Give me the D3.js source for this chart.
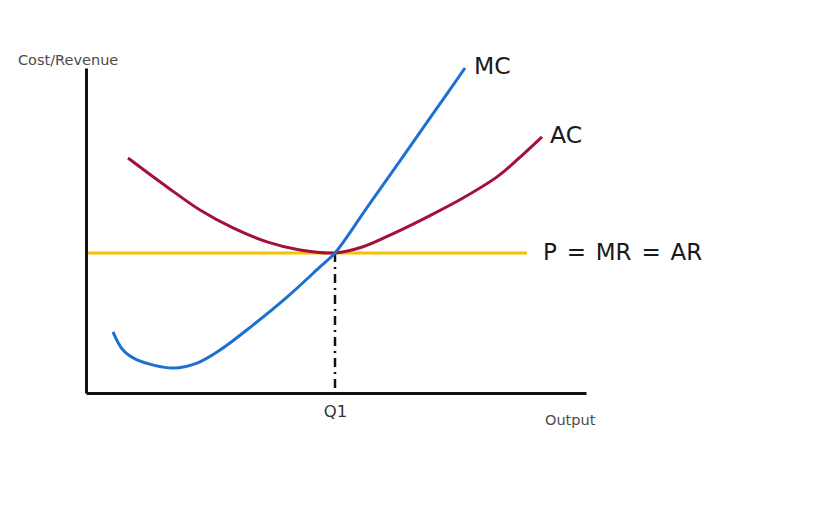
<!DOCTYPE html>
<html>
<head>
<meta charset="utf-8">
<script src="https://cdn.jsdelivr.net/npm/d3@7"></script>
<style>
  body { margin: 0; background: #fff; }
  svg text { font-family: "DejaVu Sans", Verdana, sans-serif; }
</style>
</head>
<body>
<script>
'use strict'

// output (0-100) vs cost (0-100)
const mcOutput = [5.4, 7.4, 10.2, 17.4, 22.2, 26.8, 33.4, 40.2, 46.8, 49.8, 56.3, 62.8, 69.3, 75.8]
const mcCost   = [18.8, 13.2, 10.2, 7.7, 9.2, 13.2, 20.9, 29.5, 38.8, 43.1, 57.3, 71.4, 85.7, 100]

const acOutput = [8.4, 16.2, 22.8, 29.4, 36.2, 42.8, 49.8, 55.4, 62.2, 68.8, 75.4, 82.2, 86.2, 91.2]
const acCost   = [72.3, 63.4, 56.3, 50.8, 46.5, 44.0, 43.1, 45.0, 49.6, 54.6, 60.0, 66.5, 71.7, 78.8]

const priceLevel = 43.1
const priceOutput = [0, 88.2]
const q1 = 49.8
const q1Label = 'Q1'

window.onload = function () {
  const width = 814, height = 508

  const x = d3.scaleLinear().domain([0, 100]).range([86, 586])
  const y = d3.scaleLinear().domain([0, 100]).range([393, 68])

  const svg = d3.select('body').append('svg')
    .attr('width', width)
    .attr('height', height)

  const line = d3.line()
    .x(d => x(d[0]))
    .y(d => y(d[1]))
    .curve(d3.curveCatmullRom.alpha(0.5))

  const mcData = mcOutput.map((v, i) => [v, mcCost[i]])
  const acData = acOutput.map((v, i) => [v, acCost[i]])

  // price line
  svg.append('line')
    .attr('x1', x(priceOutput[0])).attr('x2', x(priceOutput[1]))
    .attr('y1', y(priceLevel)).attr('y2', y(priceLevel))
    .attr('stroke', '#f6c200')
    .attr('stroke-width', 3)

  // dash-dot drop line at Q1
  svg.append('line')
    .attr('x1', x(q1)).attr('x2', x(q1))
    .attr('y1', y(priceLevel)).attr('y2', y(0))
    .attr('stroke', '#111')
    .attr('stroke-width', 2.5)
    .attr('stroke-dasharray', '9,5,2,5')

  svg.append('path')
    .datum(acData)
    .attr('d', line)
    .attr('fill', 'none')
    .attr('stroke', '#a3113a')
    .attr('stroke-width', 3)

  svg.append('path')
    .datum(mcData)
    .attr('d', line)
    .attr('fill', 'none')
    .attr('stroke', '#1f6fd2')
    .attr('stroke-width', 3)

  // axes
  const xAxis = svg.append('g')
    .attr('transform', 'translate(0,' + y(0) + ')')
    .call(d3.axisBottom(x).tickValues([q1]).tickFormat(() => q1Label)
      .tickSize(0).tickSizeOuter(0).tickPadding(12))
  xAxis.select('.domain').attr('stroke', '#111').attr('stroke-width', 3)
  xAxis.selectAll('text')
    .attr('font-family', '"DejaVu Sans", Verdana, sans-serif')
    .attr('font-size', 16.5)
    .attr('fill', '#333')

  const yAxis = svg.append('g')
    .attr('transform', 'translate(' + x(0) + ',0)')
    .call(d3.axisLeft(y).tickValues([]).tickSize(0).tickSizeOuter(0))
  yAxis.select('.domain').attr('stroke', '#111').attr('stroke-width', 3)

  // labels
  svg.append('text')
    .attr('x', 18).attr('y', 65)
    .attr('font-size', 14.5)
    .attr('fill', '#4a4a4a')
    .text('Cost/Revenue')

  svg.append('text')
    .attr('x', 545).attr('y', 425)
    .attr('font-size', 14.5)
    .attr('fill', '#4a4a4a')
    .text('Output')

  svg.append('text')
    .attr('x', x(mcOutput[mcOutput.length - 1]) + 9)
    .attr('y', y(mcCost[mcCost.length - 1]) + 6)
    .attr('font-size', 23.5)
    .attr('fill', '#1a1a1a')
    .text('MC')

  svg.append('text')
    .attr('x', x(acOutput[acOutput.length - 1]) + 8)
    .attr('y', y(acCost[acCost.length - 1]) + 6)
    .attr('font-size', 23.5)
    .attr('fill', '#1a1a1a')
    .text('AC')

  svg.append('text')
    .attr('x', x(priceOutput[1]) + 16)
    .attr('y', y(priceLevel) + 7)
    .attr('font-size', 23)
    .attr('word-spacing', 2.5)
    .attr('fill', '#1a1a1a')
    .attr('xml:space', 'preserve')
    .text('P = MR = AR')
}
</script>
</body>
</html>
